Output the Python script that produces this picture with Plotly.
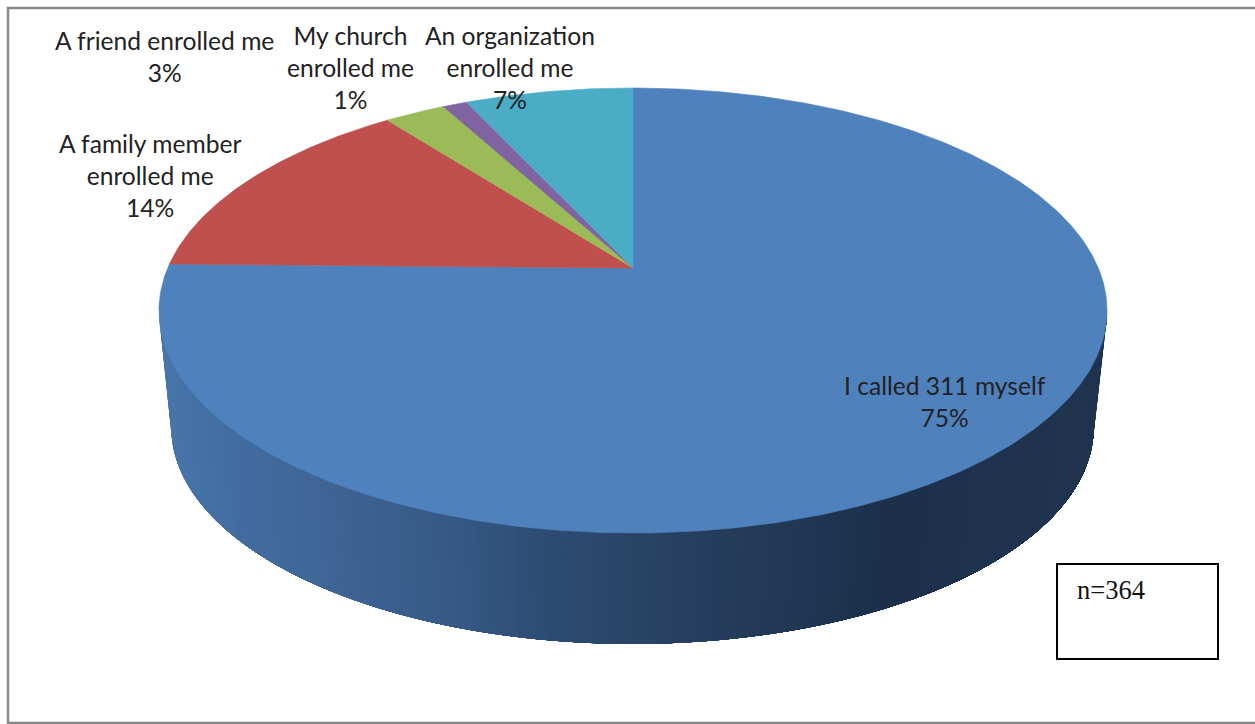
import numpy as np
import plotly.graph_objects as go

# Data
categories = ["I called 311 myself", "A family member<br>enrolled me", "A friend enrolled me",
              "My church<br>enrolled me", "An organization<br>enrolled me"]
shares = [75.3, 14.3, 2.5, 1.0, 6.9]
share_labels = ["75%", "14%", "3%", "1%", "7%"]
slice_colors = ["#4F81BD", "#C0504D", "#9BBB59", "#8064A2", "#4BACC6"]
label_x = [945, 150, 164, 350, 510]
label_y = [401, 175.5, 56.5, 67.5, 67.5]
note_text = "n=364"

# Perspective projection of the pie disc (pixel-space axes)
CX, CY = 633.0, 268.0
A, B, K = 465.3, 214.4, -0.191
CX2, CY2, SCALE2 = 632.5, 386.0, 0.973


def top_rim(theta):
    u, v = np.sin(theta), -np.cos(theta)
    w = 1 + K * v
    return CX + A * u / w, CY + B * v / w


def bottom_rim(theta):
    u, v = np.sin(theta), -np.cos(theta)
    w = 1 + K * v
    return CX2 + SCALE2 * A * u / w, CY2 + SCALE2 * B * v / w


wall_x = [173, 250, 350, 450, 550, 650, 750, 880, 1000, 1095]
wall_r = [72, 66, 62, 55, 46, 41, 36, 28, 31, 33]
wall_g = [118, 108, 100, 90, 76, 67, 59, 48, 51, 53]
wall_b = [170, 160, 148, 135, 115, 100, 88, 75, 78, 80]

fig = go.Figure()


def poly(xs, ys, color, width=0.0):
    fig.add_trace(go.Scatter(x=xs, y=ys, mode="lines", fill="toself", fillcolor=color,
                             line=dict(color=color, width=width), hoverinfo="skip",
                             showlegend=False))


# Side wall: painter's strips, each covering from its left edge to the right silhouette
t_right = np.pi / 2 + np.arcsin(abs(K))
t_left = 2 * np.pi - t_right
edges = np.linspace(t_left, t_right, 161)
for a, b in zip(edges[:-1], edges[1:]):
    th = np.linspace(a, t_right, 120)
    x1, y1 = top_rim(th)
    x2, y2 = bottom_rim(th)
    xm = bottom_rim(np.array([(a + b) / 2]))[0][0]
    col = "rgb(%d,%d,%d)" % (np.interp(xm, wall_x, wall_r), np.interp(xm, wall_x, wall_g),
                             np.interp(xm, wall_x, wall_b))
    poly(list(x1) + list(x2[::-1]), list(y1) + list(y2[::-1]), col)

# Top surface: slices clockwise from 12 o'clock
bounds = np.cumsum([0] + shares) / sum(shares) * 2 * np.pi
for i, color in enumerate(slice_colors):
    th = np.linspace(bounds[i], bounds[i + 1], max(int(shares[i] * 6), 12))
    xs, ys = top_rim(th)
    poly([CX] + list(xs) + [CX], [CY] + list(ys) + [CY], color, 0.6)

for cat, pct, x, y in zip(categories, share_labels, label_x, label_y):
    fig.add_annotation(x=x, y=y, text=f"{cat}<br>{pct}", showarrow=False, align="center",
                       xanchor="center", yanchor="middle",
                       font=dict(family="Lato", size=24.6, color="#222222"))

fig.add_annotation(x=1075, y=590, text=note_text, showarrow=False, xanchor="left", yanchor="middle",
                   font=dict(family="Liberation Serif", size=26.5, color="#111111"))

fig.add_shape(type="rect", x0=8, y0=8, x1=1262, y1=723, line=dict(color="#868686", width=2.5),
              fillcolor="rgba(0,0,0,0)", layer="above")
fig.add_shape(type="rect", x0=1057, y0=564, x1=1218, y1=659, line=dict(color="#000000", width=2),
              fillcolor="rgba(0,0,0,0)", layer="above")

fig.update_layout(width=1255, height=724, margin=dict(l=0, r=0, t=0, b=0),
                  paper_bgcolor="white", plot_bgcolor="white", showlegend=False,
                  xaxis=dict(range=[0, 1255], visible=False, fixedrange=True),
                  yaxis=dict(range=[724, 0], visible=False, fixedrange=True))

fig.write_html("out.html", config=dict(displayModeBar=False),
               post_script="document.body.style.margin='0';document.body.style.overflow='hidden';")
